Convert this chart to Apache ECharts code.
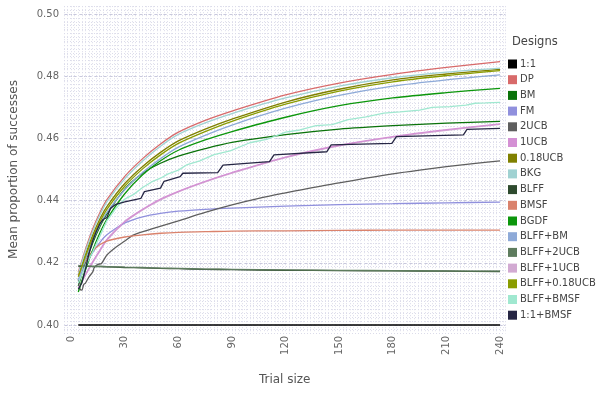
<!DOCTYPE html>
<html>
<head>
<meta charset="utf-8">
<script src="https://cdn.jsdelivr.net/npm/echarts@6/dist/echarts.min.js"></script>
<style>
  html, body { margin: 0; padding: 0; background: #fff; }
  #chart { width: 598px; height: 399px; }
</style>
</head>
<body>
<div id="chart"></div>
<script>
// trial sizes shared by the smooth curves
const trials = [4, 8, 12, 16, 20, 30, 40, 50, 60, 75, 90, 120, 150, 180, 210, 240];

const oneOne   = [0.400, 0.400, 0.400, 0.400, 0.400, 0.400, 0.400, 0.400, 0.400, 0.400, 0.400, 0.400, 0.400, 0.400, 0.400, 0.400];
const dp       = [0.4170, 0.4243, 0.4308, 0.4360, 0.4403, 0.4478, 0.4535, 0.4582, 0.4620, 0.4658, 0.4688, 0.4740, 0.4778, 0.4806, 0.4828, 0.4847];
const bm       = [0.4125, 0.4200, 0.4263, 0.4315, 0.4357, 0.4437, 0.4488, 0.4520, 0.4543, 0.4567, 0.4587, 0.4612, 0.4630, 0.4641, 0.4649, 0.4655];
const fm       = [0.4140, 0.4192, 0.4233, 0.4265, 0.4290, 0.4328, 0.4348, 0.4359, 0.4366, 0.4372, 0.4376, 0.4382, 0.4387, 0.4390, 0.4393, 0.4395];
const ucb1     = [0.4120, 0.4162, 0.4203, 0.4240, 0.4275, 0.4333, 0.4372, 0.4405, 0.4430, 0.4462, 0.4490, 0.4540, 0.4578, 0.4606, 0.4628, 0.4647];
const ucb018   = [0.4160, 0.4227, 0.4288, 0.4340, 0.4381, 0.4455, 0.4510, 0.4555, 0.4592, 0.4630, 0.4662, 0.4717, 0.4758, 0.4788, 0.4807, 0.4822];
const bkg      = [0.4165, 0.4237, 0.4301, 0.4353, 0.4396, 0.4470, 0.4527, 0.4575, 0.4613, 0.4650, 0.4680, 0.4730, 0.4768, 0.4795, 0.4813, 0.4826];
const blff     = [0.4189, 0.4189, 0.4188, 0.4188, 0.4187, 0.4185, 0.4184, 0.4182, 0.4181, 0.4179, 0.4178, 0.4176, 0.4175, 0.4174, 0.4173, 0.4172];
const bmsf     = [0.4160, 0.4205, 0.4238, 0.4258, 0.4270, 0.4283, 0.4290, 0.4295, 0.4298, 0.4300, 0.4302, 0.4303, 0.4304, 0.4305, 0.4305, 0.4305];
const bgdf     = [0.4106, 0.4177, 0.4240, 0.4295, 0.4340, 0.4422, 0.4483, 0.4528, 0.4562, 0.4595, 0.4622, 0.4668, 0.4705, 0.4730, 0.4747, 0.4761];
const blffBm   = [0.4145, 0.4212, 0.4271, 0.4321, 0.4362, 0.4435, 0.4490, 0.4535, 0.4572, 0.4610, 0.4643, 0.4697, 0.4738, 0.4768, 0.4788, 0.4804];
const blff2ucb = [0.4190, 0.4190, 0.4189, 0.4189, 0.4188, 0.4186, 0.4185, 0.4183, 0.4182, 0.4180, 0.4179, 0.4177, 0.4176, 0.4175, 0.4174, 0.4173];
const blff1ucb = [0.4118, 0.4160, 0.4200, 0.4237, 0.4272, 0.4330, 0.4370, 0.4402, 0.4428, 0.4460, 0.4488, 0.4538, 0.4576, 0.4604, 0.4626, 0.4645];
const blff018  = [0.4155, 0.4220, 0.4280, 0.4331, 0.4372, 0.4446, 0.4502, 0.4547, 0.4584, 0.4622, 0.4655, 0.4710, 0.4752, 0.4782, 0.4802, 0.4818];

// curves read with their own trial sizes
const ucb2Trials = [4, 5, 6, 7, 8, 10, 12, 13, 15, 17, 20, 25, 30, 35, 47, 60, 75, 90, 105, 120, 135, 150, 165, 180, 195, 210, 225, 240];
const ucb2       = [0.4150, 0.4115, 0.4112, 0.4130, 0.4135, 0.4155, 0.4170, 0.4185, 0.4195, 0.4198, 0.4225, 0.4250, 0.4270, 0.4290, 0.4312, 0.4335, 0.4362, 0.4386, 0.4407, 0.4425, 0.4442, 0.4457, 0.4472, 0.4486, 0.4498, 0.4509, 0.4519, 0.4528];

const blffBmsfTrials = [4, 8, 12, 16, 20, 25, 30, 35, 40, 45, 50, 54, 60, 65, 72, 80, 89, 100, 110, 120, 128, 137, 146, 155, 165, 175, 184, 195, 202, 212, 221, 226, 232, 240];
const blffBmsf       = [0.4135, 0.4190, 0.4235, 0.4285, 0.4335, 0.4375, 0.4405, 0.4420, 0.4442, 0.4460, 0.4472, 0.4485, 0.4498, 0.4516, 0.4528, 0.4548, 0.4560, 0.4586, 0.4598, 0.4620, 0.4627, 0.4641, 0.4644, 0.4660, 0.4669, 0.4681, 0.4685, 0.4691, 0.4700, 0.4702, 0.4707, 0.4713, 0.4714, 0.4716];

const oneBmsfTrials = [4, 5, 6, 8, 10, 12, 14, 16, 18, 20, 22, 25, 30, 39, 41, 50, 52, 61, 62.5, 82, 85, 111, 113.5, 143, 145.5, 179.5, 182, 219.5, 221.5, 240];
const oneBmsf       = [0.4115, 0.4110, 0.4135, 0.4180, 0.4230, 0.4270, 0.4300, 0.4325, 0.4340, 0.4345, 0.4375, 0.4388, 0.4396, 0.4407, 0.4429, 0.4440, 0.4462, 0.4477, 0.4488, 0.4490, 0.4514, 0.4525, 0.4547, 0.4557, 0.4579, 0.4584, 0.4606, 0.4611, 0.4629, 0.4632];

const xTicks = [0, 30, 60, 90, 120, 150, 180, 210, 240];
const yTicks = [0.40, 0.42, 0.44, 0.46, 0.48, 0.50];

const font = 'DejaVu Sans';

function pairs(xs, ys) {
  return xs.map((x, i) => [x, ys[i]]);
}

// lines drawn in legend order, BLFF+1UCB kept under 1UCB
const designs = [
  { name: '1:1',          color: '#000000', x: trials, y: oneOne },
  { name: 'DP',           color: '#d86a6a', x: trials, y: dp },
  { name: 'BM',           color: '#0a720a', x: trials, y: bm },
  { name: 'FM',           color: '#9090dd', x: trials, y: fm },
  { name: '2UCB',         color: '#5e5e5e', x: ucb2Trials, y: ucb2 },
  { name: '1UCB',         color: '#d490d4', x: trials, y: ucb1 },
  { name: '0.18UCB',      color: '#808000', x: trials, y: ucb018 },
  { name: 'BKG',          color: '#a0d2d2', x: trials, y: bkg },
  { name: 'BLFF',         color: '#2e4a2e', x: trials, y: blff },
  { name: 'BMSF',         color: '#da826c', x: trials, y: bmsf },
  { name: 'BGDF',         color: '#0c960c', x: trials, y: bgdf },
  { name: 'BLFF+BM',      color: '#8eaad8', x: trials, y: blffBm },
  { name: 'BLFF+2UCB',    color: '#5e7c5e', x: trials, y: blff2ucb },
  { name: 'BLFF+1UCB',    color: '#d2aad2', x: trials, y: blff1ucb, under: true },
  { name: 'BLFF+0.18UCB', color: '#8a9c00', x: trials, y: blff018 },
  { name: 'BLFF+BMSF',    color: '#a0e8d0', x: blffBmsfTrials, y: blffBmsf, stepped: true },
  { name: '1:1+BMSF',     color: '#262644', x: oneBmsfTrials, y: oneBmsf, stepped: true }
];

const chart = echarts.init(document.getElementById('chart'));

chart.setOption({
  animation: false,
  textStyle: { fontFamily: font },
  color: designs.map(d => d.color),
  title: {
    text: 'Designs',
    left: 512, top: 36, padding: 0,
    textStyle: { fontSize: 11.5, fontWeight: 'normal', color: '#444', fontFamily: font }
  },
  legend: {
    orient: 'vertical',
    left: 508, top: 58, padding: 0,
    icon: 'rect',
    itemWidth: 9, itemHeight: 9, itemGap: 3.7,
    textStyle: { fontSize: 10, color: '#444', lineHeight: 12, padding: [0, 0, 0, -2], fontFamily: font },
    data: designs.map(d => d.name)
  },
  grid: { left: 62.8, right: 92.6, top: 6.2, bottom: 66.2, containLabel: false },
  xAxis: [
    {
      type: 'value', min: -4, max: 243,
      name: 'Trial size', nameLocation: 'middle', nameGap: 41,
      nameTextStyle: { fontSize: 12, color: '#555', fontFamily: font },
      axisLine: { show: false },
      axisTick: { show: false, customValues: xTicks },
      axisLabel: { customValues: xTicks, rotate: 90, margin: 3, fontSize: 10, color: '#666', fontFamily: font },
      splitLine: { show: false }
    },
    {
      type: 'value', min: -4, max: 243, interval: 2,
      axisLine: { show: false }, axisTick: { show: false }, axisLabel: { show: false },
      splitLine: { show: true, lineStyle: { color: '#dcdcea', width: 1, type: [1, 2] } }
    }
  ],
  yAxis: [
    {
      type: 'value', min: 0.3975, max: 0.5025,
      name: 'Mean proportion of successes', nameLocation: 'middle', nameGap: 44,
      nameTextStyle: { fontSize: 12, color: '#555', fontFamily: font },
      axisLine: { show: false },
      axisTick: { show: false, customValues: yTicks },
      axisLabel: { customValues: yTicks, margin: 5, fontSize: 10, color: '#666', fontFamily: font,
                   formatter: v => v.toFixed(2) },
      splitLine: { show: true, lineStyle: { color: '#c8c8dc', width: 1, type: [3, 2] } }
    },
    {
      type: 'value', min: 0.3975, max: 0.5025, interval: 0.00125,
      axisLine: { show: false }, axisTick: { show: false }, axisLabel: { show: false },
      splitLine: { show: true, lineStyle: { color: '#dcdcea', width: 1, type: [1, 2] } }
    }
  ],
  series: designs.map(d => ({
    name: d.name,
    type: 'line',
    xAxisIndex: 0,
    yAxisIndex: 0,
    z: d.under ? 1 : 2,
    data: pairs(d.x, d.y),
    showSymbol: false,
    symbol: 'none',
    smooth: d.stepped ? false : 0.3,
    clip: false,
    lineStyle: { width: 1.3, color: d.color },
    itemStyle: { color: d.color },
    emphasis: { disabled: true }
  }))
});
</script>
</body>
</html>
